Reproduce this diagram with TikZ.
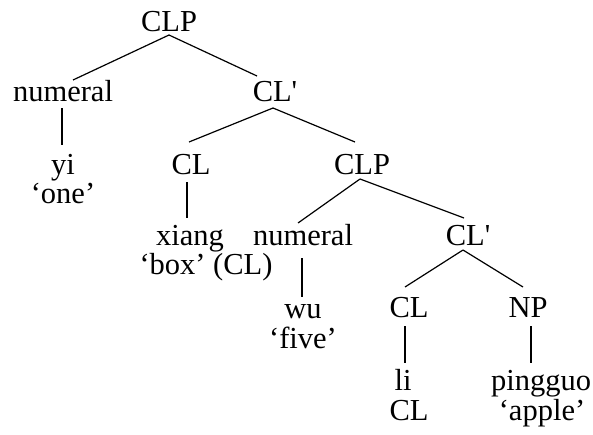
\documentclass[tikz,border=0pt]{standalone}
\usepackage{fontspec}
\newfontfamily\treefont{Liberation Serif}
\usetikzlibrary{calc}
\begin{document}
\begin{tikzpicture}[x=1pt,y=-1pt,
  lbl/.style={anchor=base,inner sep=0pt,font=\treefont\fontsize{30.5}{36}\selectfont},
  edge/.style={line width=1.2pt,black}]
\useasboundingbox (0,0) rectangle (593,434);
% nodes
\node[lbl] (CLPa) at (169,31) {CLP};
\node[lbl] (numA) at (63,101) {numeral};
\node[lbl] (CLa) at (275,101) {CL'};
\node[lbl] (yi) at (63,174) {yi};
\node[lbl] (one) at (63,203) {‘one’};
\node[lbl] (CLb) at (191,174) {CL};
\node[lbl] (CLPb) at (362,174) {CLP};
\node[lbl] (xiang) at (190,245) {xiang};
\node[lbl] (box) at (206,274) {‘box’ (CL)};
\node[lbl] (numB) at (303,245) {numeral};
\node[lbl] (CLc) at (468,245) {CL'};
\node[lbl] (wu) at (303,318) {wu};
\node[lbl] (five) at (303,348) {‘five’};
\node[lbl] (CLd) at (409,317) {CL};
\node[lbl] (NP) at (528,317) {NP};
\node[lbl] (li) at (403,390) {li};
\node[lbl] (CLe) at (409,420) {CL};
\node[lbl] (ping) at (541,390) {pingguo};
\node[lbl] (apple) at (542,420) {‘apple’};
% edges
\draw[edge] ($(CLPa.base)+(0,4)$) -- ($(numA.base)+(10,-21)$);
\draw[edge] ($(CLPa.base)+(0,4)$) -- ($(CLa.base)+(-18,-25)$);
\draw[edge] ($(numA.base)+(-1,7)$) -- ($(yi.base)+(-1,-29)$);
\draw[edge] ($(CLa.base)+(-2,7)$) -- ($(CLb.base)+(-2,-32)$);
\draw[edge] ($(CLa.base)+(-2,7)$) -- ($(CLPb.base)+(-7,-32)$);
\draw[edge] ($(CLb.base)+(-4,8)$) -- ($(xiang.base)+(-3,-27)$);
\draw[edge] ($(CLPb.base)+(-2,5)$) -- ($(numB.base)+(-5,-22)$);
\draw[edge] ($(CLPb.base)+(-2,5)$) -- ($(CLc.base)+(-4,-27)$);
\draw[edge] ($(numB.base)+(-1,13)$) -- ($(wu.base)+(-1,-21)$);
\draw[edge] ($(CLc.base)+(-5,5)$) -- ($(CLd.base)+(-4,-30)$);
\draw[edge] ($(CLc.base)+(-5,5)$) -- ($(NP.base)+(-5,-30)$);
\draw[edge] ($(CLd.base)+(-4,9)$) -- ($(li.base)+(2,-27)$);
\draw[edge] ($(NP.base)+(3,9)$) -- ($(ping.base)+(-10,-27)$);
\end{tikzpicture}
\end{document}
